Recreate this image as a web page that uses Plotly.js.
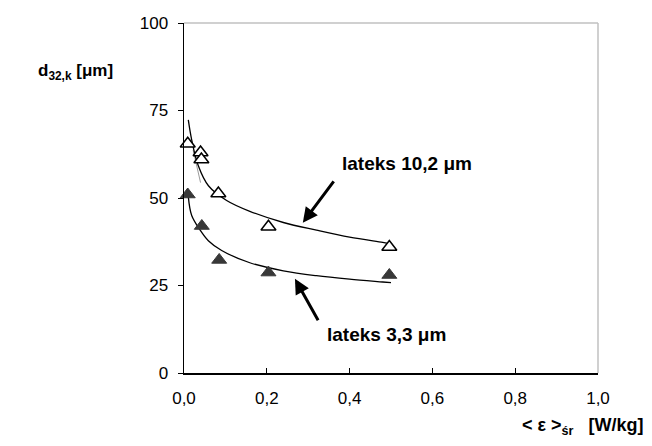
<!DOCTYPE html>
<html>
<head>
<meta charset="utf-8">
<script src="https://cdn.plot.ly/plotly-3.0.1.min.js"></script>
<style>html,body{margin:0;padding:0;background:#fff;}#chart{width:652px;height:446px;}</style>
</head>
<body>
<div id="chart"></div>
<script>
// Measured points: latex 10.2 um (open triangles)
var epsOpen = [0.009, 0.040, 0.042, 0.083, 0.204, 0.496];
var d32Open = [65.5, 63.0, 61.0, 51.3, 41.8, 36.0];
// Measured points: latex 3.3 um (filled triangles)
var epsFilled = [0.009, 0.043, 0.085, 0.204, 0.496];
var d32Filled = [51.0, 42.0, 32.3, 28.7, 28.0];
// Fitted curve: 10.2 um
var fitX10 = [0.0104, 0.0186, 0.0346, 0.059, 0.103, 0.159, 0.24, 0.32, 0.40, 0.48, 0.50];
var fitY10 = [72.3, 66.6, 59.2, 53.5, 49.3, 46.2, 43.0, 40.8, 38.8, 37.3, 36.9];
// Fitted curve: 3.3 um
var fitX3 = [0.0104, 0.0186, 0.0386, 0.0588, 0.091, 0.159, 0.24, 0.32, 0.40, 0.48, 0.50];
var fitY3 = [50.4, 45.0, 40.9, 37.8, 35.0, 31.5, 29.2, 27.8, 26.8, 26.0, 25.8];
// Thin grey segment near the second points
var greyX = [0.022, 0.040];
var greyY = [63.7, 54.4];
// Axis ticks
var xTicks = [0, 0.2, 0.4, 0.6, 0.8, 1.0];
var yTicks = [0, 25, 50, 75, 100];

var FONT = 'Liberation Sans, Arial, Helvetica, sans-serif';

var traces = [
  {x: greyX, y: greyY, mode: 'lines', line: {color: '#9a9a9a', width: 1}, hoverinfo: 'skip', showlegend: false},
  {x: fitX10, y: fitY10, mode: 'lines', line: {color: '#000', width: 1.3, shape: 'spline'}, showlegend: false},
  {x: fitX3, y: fitY3, mode: 'lines', line: {color: '#000', width: 1.3, shape: 'spline'}, showlegend: false},
  {x: epsOpen, y: d32Open, mode: 'markers', cliponaxis: false,
   marker: {symbol: 'triangle-up', size: 13, color: '#fff', line: {color: '#000', width: 1.5}}, showlegend: false},
  {x: epsFilled, y: d32Filled, mode: 'markers', cliponaxis: false,
   marker: {symbol: 'triangle-up', size: 13, color: '#383838', line: {color: '#383838', width: 1}}, showlegend: false}
];

var layout = {
  width: 652, height: 446,
  margin: {l: 184, r: 54, t: 23, b: 73},
  paper_bgcolor: '#fff', plot_bgcolor: '#fff',
  separators: ', ',
  showlegend: false,
  font: {family: FONT, color: '#000'},
  xaxis: {
    range: [0, 1], tickvals: xTicks, tickformat: '.1f',
    ticks: 'inside', ticklen: 5, tickwidth: 1, tickcolor: '#000',
    ticklabelstandoff: 9,
    showline: true, linecolor: '#000', linewidth: 1.5,
    showgrid: false, zeroline: false,
    tickfont: {family: FONT, size: 17, color: '#000'}
  },
  yaxis: {
    range: [0, 100], tickvals: yTicks,
    ticks: 'outside', ticklen: 5, tickwidth: 1, tickcolor: '#000',
    ticklabelstandoff: 6,
    showline: true, linecolor: '#000', linewidth: 1.5,
    showgrid: false, zeroline: false,
    tickfont: {family: FONT, size: 17, color: '#000'}
  },
  shapes: [
    {type: 'line', xref: 'paper', yref: 'paper', x0: 0, x1: 1, y0: 1, y1: 1, line: {color: '#c0c0c0', width: 1.5}},
    {type: 'line', xref: 'paper', yref: 'paper', x0: 1, x1: 1, y0: 0, y1: 1, line: {color: '#c0c0c0', width: 1.5}}
  ],
  annotations: [
    {xref: 'paper', yref: 'paper', x: -0.358, y: 0.86, xanchor: 'left', yanchor: 'middle', showarrow: false,
     text: '<b>d<sub>32,k</sub> [μm]</b>', font: {family: FONT, size: 17, color: '#000'}},
    {xref: 'paper', yref: 'paper', x: 1.113, y: -0.152, xanchor: 'right', yanchor: 'middle', showarrow: false,
     text: '<b>&lt; ε &gt;<sub>śr</sub>   [W/kg]</b>', font: {family: FONT, size: 18, color: '#000'}},
    {x: 0.377, y: 60, xanchor: 'left', yanchor: 'middle', showarrow: false,
     text: '<b>lateks 10,2 μm</b>', font: {family: FONT, size: 19, color: '#000'}},
    {x: 0.341, y: 11.1, xanchor: 'left', yanchor: 'middle', showarrow: false,
     text: '<b>lateks 3,3 μm</b>', font: {family: FONT, size: 19, color: '#000'}},
    {x: 0.287, y: 42.9, ax: 32, ay: -43, showarrow: true, text: '', arrowhead: 2, arrowsize: 1, arrowwidth: 3, arrowcolor: '#000'},
    {x: 0.268, y: 26.9, ax: 24, ay: 43, showarrow: true, text: '', arrowhead: 2, arrowsize: 1, arrowwidth: 3, arrowcolor: '#000'}
  ]
};

Plotly.newPlot('chart', traces, layout, {displayModeBar: false, staticPlot: true});
</script>
</body>
</html>
